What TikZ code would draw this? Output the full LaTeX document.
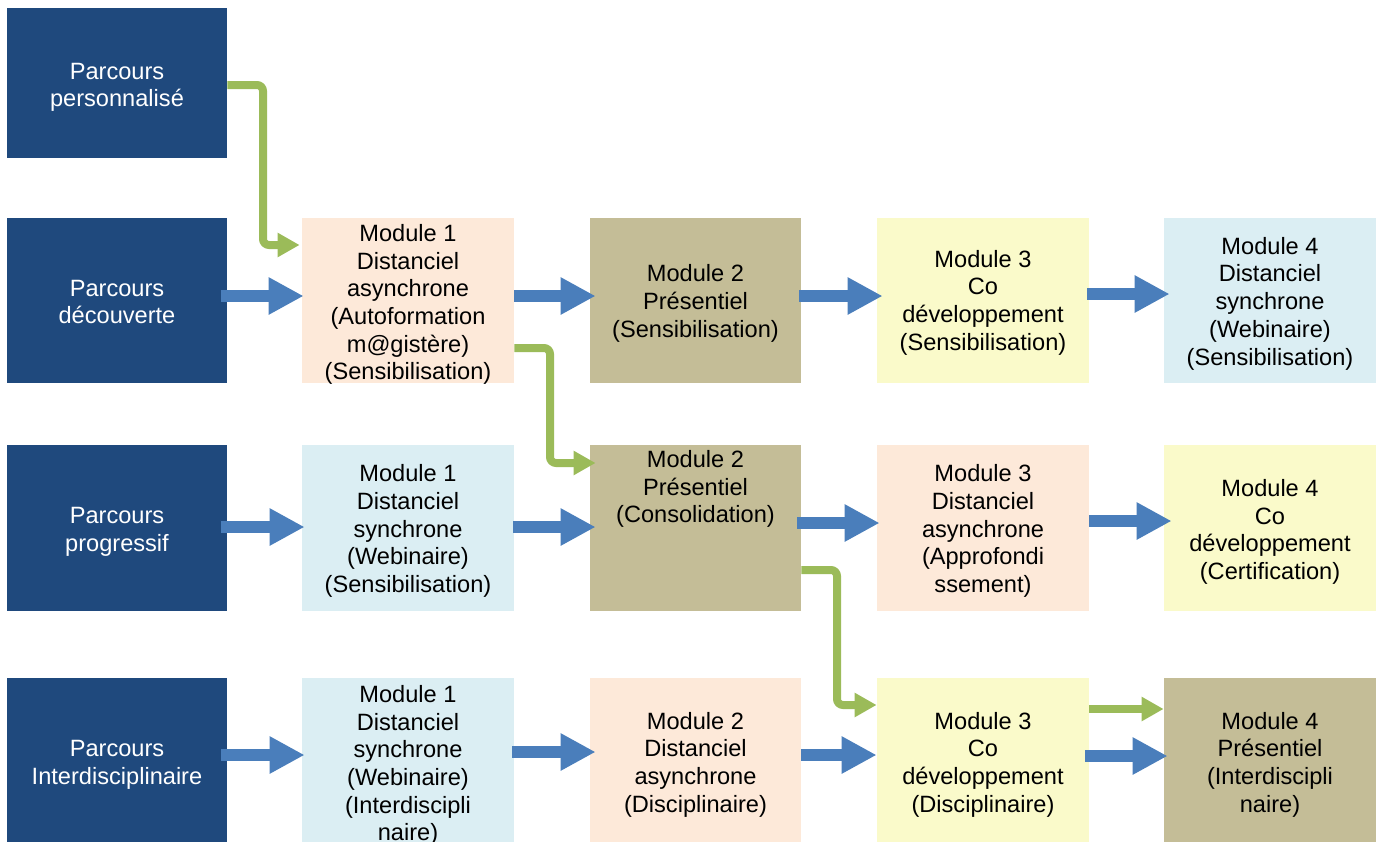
\documentclass[tikz,border=0pt]{standalone}
\usepackage{fontspec}
\setmainfont{Liberation Sans}
\usetikzlibrary{arrows.meta}
\definecolor{dkblue}{HTML}{1F497D}
\definecolor{peach}{HTML}{FDE9D9}
\definecolor{tan}{HTML}{C4BD97}
\definecolor{lyellow}{HTML}{FAFACA}
\definecolor{lblue}{HTML}{DBEEF3}
\definecolor{arrblue}{HTML}{4A7EBB}
\definecolor{arrgreen}{HTML}{9BBB59}
\begin{document}
\begin{tikzpicture}[x=0.5pt,y=-0.5pt,
  box/.style={draw=none, inner sep=0pt},
  parc/.style={box, fill=dkblue, minimum width=110pt},
  col2/.style={box, minimum width=106pt},
  col3/.style={box, minimum width=105.5pt},
  col4/.style={box, minimum width=106pt},
  col5/.style={box, minimum width=106pt},
  rowa/.style={minimum height=75pt},
  rowb/.style={minimum height=82.5pt},
  rowc/.style={minimum height=83pt},
  rowd/.style={minimum height=82.5pt},
  barrow/.style={draw=arrblue, line width=6pt, -{Triangle[length=17.5pt,width=17.5pt]}},
  garrow/.style={draw=arrgreen, line width=4pt, rounded corners=3pt, -{Triangle[length=11pt,width=11.5pt]}},
  txt/.style={inner sep=0pt, align=center, font=\fontsize{11.8}{13.85}\selectfont, text=black},
  wtxt/.style={txt, text=white}
]
\useasboundingbox (0,0) rectangle (1380,841);
% Parcours boxes
\node[parc, rowa] (p1) at (117,83) {};
\node[parc, rowb] (p2) at (117,300.5) {};
\node[parc, rowc] (p3) at (117,528) {};
\node[parc, rowd] (p4) at (117,760.5) {};
% Row 2
\node[col2, rowb, fill=peach] (m12) at (408,300.5) {};
\node[col3, rowb, fill=tan] (m22) at (695.5,300.5) {};
\node[col4, rowb, fill=lyellow] (m32) at (983,300.5) {};
\node[col5, rowb, fill=lblue] (m42) at (1270,300.5) {};
% Row 3
\node[col2, rowc, fill=lblue] (m13) at (408,528) {};
\node[col3, rowc, fill=tan] (m23) at (695.5,528) {};
\node[col4, rowc, fill=peach] (m33) at (983,528) {};
\node[col5, rowc, fill=lyellow] (m43) at (1270,528) {};
% Row 4
\node[col2, rowd, fill=lblue] (m14) at (408,760.5) {};
\node[col3, rowd, fill=peach] (m24) at (695.5,760.5) {};
\node[col4, rowd, fill=lyellow] (m34) at (983,760.5) {};
\node[col5, rowd, fill=tan] (m44) at (1270,760.5) {};
% Texts
\node[wtxt] (p1t) at ([yshift=-2.2pt]p1.center) {Parcours\\personnalisé};
\node[wtxt] (p2t) at ([yshift=-0.8pt]p2.center) {Parcours\\découverte};
\node[wtxt] (p3t) at ([yshift=-1.8pt]p3.center) {Parcours\\progressif};
\node[wtxt] (p4t) at ([yshift=-2.2pt]p4.center) {Parcours\\Interdisciplinaire};
\node[txt] (m12t) at ([yshift=-2pt]m12.center) {Module 1\\Distanciel\\asynchrone\\(Autoformation\\m@gistère)\\(Sensibilisation)};
\node[txt] (m22t) at ([yshift=-1.5pt]m22.center) {Module 2\\Présentiel\\(Sensibilisation)};
\node[txt] (m32t) at ([yshift=-1pt]m32.center) {Module 3\\Co\\développement\\(Sensibilisation)};
\node[txt] (m42t) at ([yshift=-1.5pt]m42.center) {Module 4\\Distanciel\\synchrone\\(Webinaire)\\(Sensibilisation)};
\node[txt] (m13t) at ([yshift=-1.5pt]m13.center) {Module 1\\Distanciel\\synchrone\\(Webinaire)\\(Sensibilisation)};
\node[txt, anchor=north] (m23t) at (695.5,450) {Module 2\\Présentiel\\(Consolidation)};
\node[txt] (m33t) at ([yshift=-1.5pt]m33.center) {Module 3\\Distanciel\\asynchrone\\(Approfondi\\ssement)};
\node[txt] (m43t) at ([yshift=-2pt]m43.center) {Module 4\\Co\\développement\\(Certification)};
\node[txt] (m14t) at ([yshift=-2.5pt]m14.center) {Module 1\\Distanciel\\synchrone\\(Webinaire)\\(Interdiscipli\\naire)};
\node[txt] (m24t) at ([yshift=-2pt]m24.center) {Module 2\\Distanciel\\asynchrone\\(Disciplinaire)};
\node[txt] (m34t) at ([yshift=-2pt]m34.center) {Module 3\\Co\\développement\\(Disciplinaire)};
\node[txt] (m44t) at ([yshift=-2pt]m44.center) {Module 4\\Présentiel\\(Interdiscipli\\naire)};
% Blue arrows
\draw[barrow] ([xshift=-3pt]p2.east |- 0,296) -- ([xshift=1pt]m12.west |- 0,296);
\draw[barrow] (m12.east |- 0,296) -- ([xshift=3pt]m22.west |- 0,296);
\draw[barrow] ([xshift=-1pt]m22.east |- 0,296) -- ([xshift=3pt]m32.west |- 0,296);
\draw[barrow] ([xshift=-1pt]m32.east |- 0,294) -- ([xshift=3pt]m42.west |- 0,294);
\draw[barrow] ([xshift=-3pt]p3.east |- 0,527) -- ([xshift=1.5pt]m13.west |- 0,527);
\draw[barrow] ([xshift=-0.5pt]m13.east |- 0,527) -- ([xshift=3pt]m23.west |- 0,527);
\draw[barrow] ([xshift=-2pt]m23.east |- 0,523) -- ([xshift=1.5pt]m33.west |- 0,523);
\draw[barrow] (m33.east |- 0,521) -- ([xshift=4pt]m43.west |- 0,521);
\draw[barrow] ([xshift=-3pt]p4.east |- 0,755) -- ([xshift=1.5pt]m14.west |- 0,755);
\draw[barrow] ([xshift=-1pt]m14.east |- 0,752) -- ([xshift=3pt]m24.west |- 0,752);
\draw[barrow] (m24.east |- 0,755) -- (m34.west |- 0,755);
\draw[barrow] ([xshift=-2pt]m34.east |- 0,756) -- ([xshift=2pt]m44.west |- 0,756);
% Green arrows
\draw[garrow] (p1.east |- 0,85) -- (263,85) -- (263,245) -- ([xshift=-1pt]m12.west |- 0,245);
\draw[garrow] (m12.east |- 0,348) -- (550,348) -- (550,463) -- ([xshift=3pt]m23.west |- 0,463);
\draw[garrow] (m23.east |- 0,570) -- (837,570) -- (837,705) -- (m34.west |- 0,705);
\draw[garrow] (m34.east |- 0,709) -- (m44.west |- 0,709);
\end{tikzpicture}
\end{document}
